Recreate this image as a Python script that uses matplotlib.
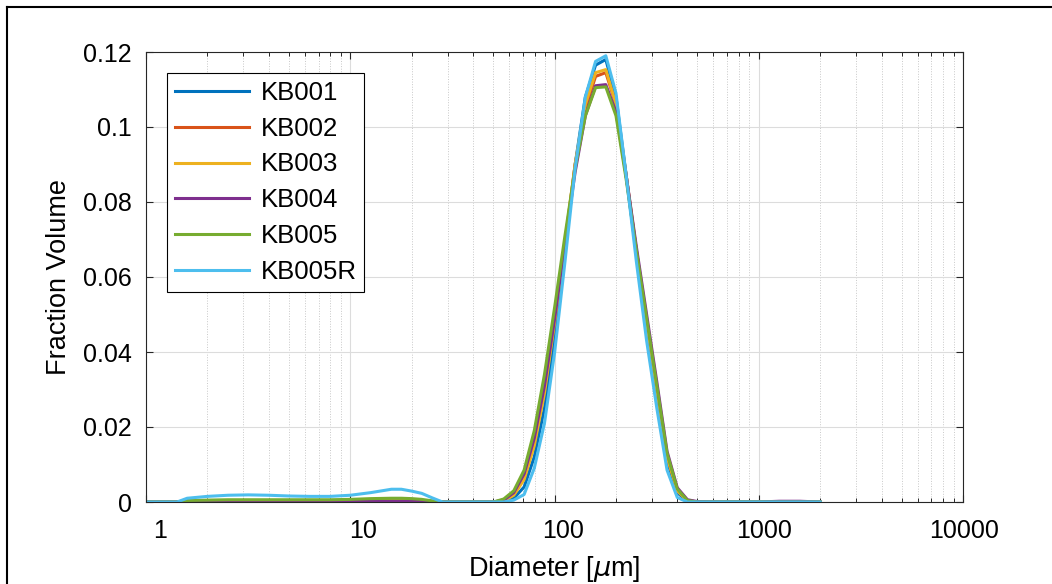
import numpy as np
import matplotlib.pyplot as plt
import matplotlib.transforms as mtransforms
from matplotlib.lines import Line2D

plt.rcParams['font.family'] = ['Liberation Sans', 'DejaVu Sans']

# particle diameter bins (um)
diameter = [1.0, 1.26, 1.42, 1.59, 2.0, 2.52, 3.17, 3.99, 5.02, 6.32,
            7.96, 10.0, 12.6, 15.9, 17.8, 20.0, 22.4, 25.2, 28.3, 31.7,
            39.9, 50.2, 56.4, 63.2, 71.0, 79.6, 89.3, 100.2, 112.5, 126.2,
            141.6, 158.9, 178.3, 200.0, 224.4, 251.8, 282.5, 317.0, 355.7, 399.1,
            447.7, 502.4, 632.5, 1002, 1262, 1589, 2000]

kb001 = [0, 0, 0, 0.0003, 0.0004, 0.0004, 0.0004, 0.0004, 0.0004, 0.0004,
         0.0004, 0.0004, 0.0005, 0.0006, 0.0006, 0.0005, 0.0004, 0.0002, 0, 0,
         0, 0, 0, 0.001, 0.004, 0.012, 0.025, 0.044, 0.067, 0.090,
         0.108, 0.1165, 0.118, 0.108, 0.087, 0.066, 0.046, 0.028, 0.011, 0.0025,
         0.0002, 0, 0, 0, 0, 0, 0]
kb002 = [0, 0, 0, 0.0002, 0.0002, 0.0003, 0.0003, 0.0003, 0.0003, 0.0003,
         0.0003, 0.0003, 0.0003, 0.0004, 0.0004, 0.0003, 0.0003, 0.0001, 0, 0,
         0, 0, 0.0004, 0.002, 0.0065, 0.016, 0.030, 0.049, 0.069, 0.090,
         0.105, 0.1135, 0.1145, 0.106, 0.087, 0.067, 0.048, 0.030, 0.012, 0.0033,
         0.0004, 0, 0, 0, 0, 0, 0]
kb003 = [0, 0, 0, 0.0002, 0.0003, 0.0003, 0.0003, 0.0003, 0.0003, 0.0003,
         0.0003, 0.0003, 0.0004, 0.0005, 0.0005, 0.0004, 0.0003, 0.0001, 0, 0,
         0, 0, 0.0003, 0.0018, 0.006, 0.015, 0.029, 0.048, 0.069, 0.090,
         0.106, 0.1145, 0.1153, 0.106, 0.087, 0.067, 0.048, 0.030, 0.012, 0.003,
         0.0003, 0, 0, 0, 0, 0, 0]
kb004 = [0, 0, 0, 0.0001, 0.0001, 0.0001, 0.0001, 0.0001, 0.0001, 0.0001,
         0.0001, 0.0001, 0.0002, 0.0002, 0.0002, 0.0002, 0.0001, 0.0001, 0, 0,
         0, 0, 0.0005, 0.0025, 0.0075, 0.017, 0.031, 0.049, 0.069, 0.088,
         0.103, 0.111, 0.1113, 0.104, 0.087, 0.068, 0.050, 0.032, 0.0135, 0.0038,
         0.0006, 0.0001, 0, 0, 0.0002, 0.0002, 0]
kb005 = [0, 0, 0, 0.0004, 0.0005, 0.0006, 0.0006, 0.0006, 0.0006, 0.0006,
         0.0006, 0.0007, 0.0009, 0.0010, 0.0010, 0.0009, 0.0007, 0.0003, 0, 0,
         0, 0, 0.0008, 0.003, 0.0085, 0.019, 0.034, 0.052, 0.071, 0.089,
         0.103, 0.1105, 0.1107, 0.103, 0.086, 0.067, 0.049, 0.031, 0.013, 0.0035,
         0.0004, 0, 0, 0, 0, 0, 0]
kb005r = [0, 0, 0, 0.0010, 0.0015, 0.0018, 0.0019, 0.0018, 0.0016, 0.0015,
          0.0015, 0.0018, 0.0025, 0.0034, 0.0034, 0.0029, 0.0023, 0.0011, 0, 0,
          0, 0, 0, 0.0005, 0.002, 0.009, 0.021, 0.040, 0.064, 0.089,
          0.108, 0.1175, 0.119, 0.109, 0.087, 0.064, 0.043, 0.025, 0.0085, 0.0012,
          0, 0, 0, 0, 0, 0, 0]

labels = ['KB001', 'KB002', 'KB003', 'KB004', 'KB005', 'KB005R']
colors = ['#0072BD', '#D95319', '#EDB120', '#7E2F8E', '#77AC30', '#4DBEEE']
series = [kb001, kb002, kb003, kb004, kb005, kb005r]

xticks = [1, 10, 100, 1000, 10000]
xticklabels = ['1', '10', '100', '1000', '10000']
yticks = [0, 0.02, 0.04, 0.06, 0.08, 0.1, 0.12]
yticklabels = ['0', '0.02', '0.04', '0.06', '0.08', '0.1', '0.12']

fig = plt.figure(figsize=(10.52, 5.84), dpi=100)
ax = fig.add_axes([146 / 1052, 1 - 502 / 584, 817 / 1052, 450 / 584])

for y, lab, c in zip(series, labels, colors):
    ax.plot(diameter, y, color=c, lw=2.2, label=lab)

ax.set_xscale('log')
ax.set_xlim(1, 10000)
ax.set_ylim(0, 0.12)
ax.set_xticks(xticks)
ax.set_xticklabels(xticklabels)
ax.set_yticks(yticks)
ax.set_yticklabels(yticklabels)

ax.grid(True, which='major', color='#dcdcdc', lw=0.8, ls='-')
ax.grid(True, which='minor', axis='x', color='#c8c8c8', lw=0.7, ls=':')
ax.set_axisbelow(True)

ax.tick_params(which='both', direction='in', top=True, right=True,
               colors='#262626', labelcolor='black')
ax.tick_params(which='major', length=5, width=0.8, labelsize=18)
ax.tick_params(axis='x', which='major', pad=12)
ax.tick_params(axis='y', which='major', pad=10)
ax.tick_params(which='minor', length=3, width=0.7)
for s in ax.spines.values():
    s.set_color('#262626')
    s.set_linewidth(0.8)

# the exported x labels sit a little right of their ticks
for lbl, dx in zip(ax.get_xticklabels(), [14, 13, 9, 5, 1]):
    lbl.set_transform(lbl.get_transform() +
                      mtransforms.ScaledTranslation(dx / 100, 0, fig.dpi_scale_trans))

ax.set_xlabel(r'Diameter [$\mu$m]', fontsize=19.5)
ax.set_ylabel('Fraction Volume', fontsize=19.5)
ax.xaxis.set_label_coords(0.5, -0.115)
ax.yaxis.set_label_coords(-0.107, 0.5)
ax.yaxis.label.set_va('center')

leg = ax.legend(loc='upper left', bbox_to_anchor=(0.0257, 0.953), borderaxespad=0,
                fontsize=18.5, fancybox=False, framealpha=1, edgecolor='black',
                handlelength=2.9, labelspacing=0.46, borderpad=0.3, handletextpad=0.45)
leg.get_frame().set_linewidth(0.8)

# outer frame of the exported figure
fig.add_artist(Line2D([7 / 1052, 7 / 1052], [0, 1 - 7 / 584], color='black', lw=1.5))
fig.add_artist(Line2D([7 / 1052, 1], [1 - 7 / 584, 1 - 7 / 584], color='black', lw=1.5))

fig.savefig('out.png', dpi=100)
